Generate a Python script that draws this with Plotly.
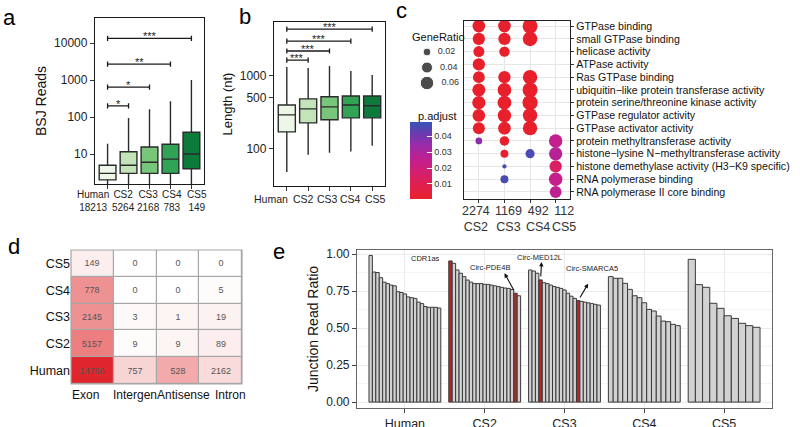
import plotly.graph_objects as go
import numpy as np

W, H = 800, 427
FONT = "Liberation Sans, Arial, sans-serif"
INK = "#1a1a1a"

# ---------------- panel a : BSJ reads per circRNA ----------------
groups = ["Human", "CS2", "CS3", "CS4", "CS5"]
circ_counts = [18213, 5264, 2168, 783, 149]
bsj_q1 = [2.0, 3.0, 3.0, 3.0, 4.0]
bsj_median = [3.0, 5.0, 6.0, 7.3, 10.0]
bsj_q3 = [5.0, 11.5, 15.5, 18.5, 39.0]
bsj_low = [1.0, 1.0, 1.0, 1.0, 1.0]
bsj_high = [19, 94, 164, 270, 1000]
bsj_tests = [("CS2", "*", 200), ("CS3", "*", 650), ("CS4", "**", 2700), ("CS5", "***", 13500)]

# ---------------- panel b : circRNA length ----------------
len_q1 = [171, 227, 250, 266, 266]
len_median = [292, 353, 376, 400, 390]
len_q3 = [400, 485, 517, 530, 530]
len_low = [48, 83, 88, 92, 110]
len_high = [1330, 1290, 1370, 1170, 1030]
len_tests = [("CS2", "***", 1650), ("CS3", "***", 2200), ("CS4", "***", 3000), ("CS5", "***", 4400)]

box_colors = ["#edf7e8", "#c2e4b8", "#78c679", "#31a354", "#0b7a3a"]

# ---------------- panel c : GO enrichment ----------------
go_terms = [
    "GTPase binding", "small GTPase binding", "helicase activity", "ATPase activity",
    "Ras GTPase binding", "ubiquitin\u2212like protein transferase activity",
    "protein serine/threonine kinase activity", "GTPase regulator activity",
    "GTPase activator activity", "protein methyltransferase activity",
    "histone\u2212lysine N\u2212methyltransferase activity",
    "histone demethylase activity (H3\u2212K9 specific)",
    "RNA polymerase binding", "RNA polymerase II core binding",
]
go_groups = ["CS2", "CS3", "CS4", "CS5"]
go_group_counts = [2274, 1169, 492, 112]
gene_ratio = {
    "CS2": [0.053, 0.050, 0.040, 0.050, 0.046, 0.056, 0.058, 0.053, 0.048, 0.015, None, None, None, None],
    "CS3": [0.053, 0.050, 0.036, None, 0.050, 0.062, 0.064, 0.060, 0.053, 0.030, 0.021, 0.006, 0.021, None],
    "CS4": [0.074, 0.070, None, None, 0.068, 0.074, 0.076, 0.068, 0.068, None, 0.028, None, None, None],
    "CS5": [None] * 9 + [0.060, 0.058, 0.050, 0.060, 0.046],
}
p_adjust = {
    "CS2": [0.001] * 9 + [0.036, None, None, None, None],
    "CS3": [0.001] * 9 + [0.002, 0.002, 0.048, 0.046, None],
    "CS4": [0.001, 0.001, None, None, 0.001, 0.001, 0.001, 0.001, 0.001, None, 0.046, None, None, None],
    "CS5": [None] * 9 + [0.025, 0.028, 0.014, 0.024, 0.026],
}
legend_ratios = [0.02, 0.04, 0.06]

# ---------------- panel d : genomic origin ----------------
region_types = ["Exon", "Intergen", "Antisense", "Intron"]
region_rows = ["Human", "CS2", "CS3", "CS4", "CS5"]
region_counts = [
    [14766, 757, 528, 2162],
    [5157, 9, 9, 89],
    [2145, 3, 1, 19],
    [778, 0, 0, 5],
    [149, 0, 0, 0],
]
# fill level of each cell (0 = white, 1 = darkest red)
region_fill_level = [
    [1.00, 0.22, 0.45, 0.19],
    [0.64, 0.02, 0.06, 0.09],
    [0.56, 0.03, 0.06, 0.07],
    [0.56, 0.00, 0.00, 0.02],
    [0.09, 0.00, 0.00, 0.00],
]

# ---------------- panel e : junction read ratio ----------------
junction_ratio = {
    "Human": [0.99, 0.878, 0.875, 0.84, 0.81, 0.80, 0.79, 0.785, 0.745, 0.74, 0.73,
              0.71, 0.705, 0.70, 0.675, 0.665, 0.645, 0.64, 0.64, 0.64, 0.635],
    "CS2": [0.953, 0.937, 0.892, 0.87, 0.847, 0.824, 0.81, 0.80, 0.80, 0.80, 0.795,
            0.795, 0.79, 0.785, 0.78, 0.775, 0.77, 0.768, 0.76, 0.735, 0.718],
    "CS3": [0.892, 0.885, 0.87, 0.825, 0.806, 0.80, 0.79, 0.78, 0.775, 0.768, 0.757,
            0.735, 0.715, 0.70, 0.685, 0.68, 0.675, 0.67, 0.665, 0.66, 0.655],
    "CS4": [0.847, 0.836, 0.836, 0.802, 0.761, 0.718, 0.705, 0.671, 0.626, 0.615,
            0.581, 0.547, 0.543, 0.525, 0.516],
    "CS5": [0.964, 0.793, 0.775, 0.667, 0.633, 0.583, 0.565, 0.532, 0.516, 0.505],
}
highlighted = {"CS2": [0, 19], "CS3": [3, 14]}
labelled = [("CDR1as", None), ("Circ-PDE4B", ("CS2", 19)), ("Circ-MED12L", ("CS3", 3)),
            ("Circ-SMARCA5", ("CS3", 14))]


def fx(p):
    return p / W


def fy(p):
    return 1 - p / H


fig = go.Figure()


def add_boxes(q1, med, q3, lo, hi, xa, ya):
    for i, g in enumerate(groups):
        fig.add_trace(go.Box(
            x=[g], q1=[q1[i]], median=[med[i]], q3=[q3[i]], lowerfence=[lo[i]], upperfence=[hi[i]],
            fillcolor=box_colors[i], line=dict(color="#2b2b2b", width=1.4), width=0.8,
            whiskerwidth=0, boxpoints=False, showlegend=False, hoverinfo="skip",
            xaxis=xa, yaxis=ya))


add_boxes(bsj_q1, bsj_median, bsj_q3, bsj_low, bsj_high, "x", "y")
add_boxes(len_q1, len_median, len_q3, len_low, len_high, "x2", "y2")

annotations = []


def add_brackets(tests, xa, ya, dec_per_px, yref):
    fac = 10 ** (2.6 * dec_per_px)
    xs, ys = [], []
    for g2, lab, yv in tests:
        xs += ["Human", "Human", "Human", g2, g2, g2, None]
        ys += [yv / fac, yv * fac, yv, yv, yv * fac, yv / fac, None]
        annotations.append(dict(x=(groups.index(g2)) / 2, y=np.log10(yv), xref=xa,
                                yref=yref, text=lab, showarrow=False, yanchor="middle", yshift=2,
                                font=dict(size=11, color=INK, family=FONT)))
    fig.add_trace(go.Scatter(x=xs, y=ys, mode="lines", line=dict(color=INK, width=1.3),
                             showlegend=False, hoverinfo="skip", xaxis=xa, yaxis=ya))


a_yr = [0.19, 4.68]
b_yr = [1.49, 3.74]
add_brackets(bsj_tests, "x", "y", (a_yr[1] - a_yr[0]) / 166, "y")
add_brackets(len_tests, "x2", "y2", (b_yr[1] - b_yr[0]) / 164, "y2")


def ratio_to_px(r):
    return 55 * np.sqrt(r)


dx, dy, ds, dc = [], [], [], []
for gi, g in enumerate(go_groups):
    for ti in range(len(go_terms)):
        r = gene_ratio[g][ti]
        if r is None:
            continue
        dx.append(gi + 1)
        dy.append(ti + 1)
        ds.append(ratio_to_px(r))
        dc.append(p_adjust[g][ti])
fig.add_trace(go.Scatter(x=dx, y=dy, mode="markers",
                         marker=dict(size=ds, color=dc, coloraxis="coloraxis", line=dict(width=0), opacity=1),
                         showlegend=False, hoverinfo="skip", xaxis="x3", yaxis="y3"))

fig.add_trace(go.Scatter(x=[0, 0, 0], y=legend_ratios, mode="markers+text",
                         marker=dict(size=[ratio_to_px(r) for r in legend_ratios], color="black"),
                         text=["  %.2f" % r for r in legend_ratios], textposition="middle right",
                         textfont=dict(size=9, color="#333", family=FONT),
                         showlegend=False, hoverinfo="skip", xaxis="x6", yaxis="y6", cliponaxis=False))

fig.add_trace(go.Heatmap(z=region_fill_level, x=region_types, y=region_rows,
                         text=[[str(v) for v in row] for row in region_counts], texttemplate="%{text}",
                         textfont=dict(size=9, color="#555", family=FONT),
                         colorscale=[[0, "#ffffff"], [0.5, "#f0a0a0"], [1, "#e0262c"]], zmin=0, zmax=1,
                         showscale=False, xgap=1.2, ygap=1.2, hoverinfo="skip", xaxis="x4", yaxis="y4"))

bx, by, bw, bc = [], [], [], []
bar_pos = {}
for gi, g in enumerate(groups):
    vals = junction_ratio[g]
    n = len(vals)
    w = 0.9 / n
    for i, v in enumerate(vals):
        x = gi + 1 - 0.45 + (i + 0.5) * w
        bx.append(x)
        by.append(v)
        bw.append(w)
        bc.append("#b22a2a" if i in highlighted.get(g, []) else "#d2d2d2")
        bar_pos[(g, i)] = (x, v)
fig.add_trace(go.Bar(x=bx, y=by, width=bw, marker=dict(color=bc, line=dict(color="#3a3a3a", width=1)),
                     showlegend=False, hoverinfo="skip", xaxis="x5", yaxis="y5"))

E_XR = [0.4, 5.6]
E_YR = [-0.04, 1.027]
E_PX_X = 80.0
E_PX_Y = 148.0


def e_x(px):
    return E_XR[0] + (px - 357) / E_PX_X


def e_y(py):
    return (402 - py) / E_PX_Y


label_px = {"CDR1as": (426, 258), "Circ-PDE4B": (490, 267), "Circ-MED12L": (540, 257),
            "Circ-SMARCA5": (593, 268)}
arrow_head_offset = {"Circ-PDE4B": (-11, -20), "Circ-MED12L": (1, -18), "Circ-SMARCA5": (10, -17)}
for name, target in labelled:
    px, py = label_px[name]
    annotations.append(dict(x=e_x(px), y=e_y(py), xref="x5", yref="y5", text=name, showarrow=False,
                            xanchor="center", yanchor="middle",
                            font=dict(size=7.5, color="#222", family=FONT)))
    if target is not None:
        tx, ty = bar_pos[target]
        ox, oy = arrow_head_offset[name]
        hx = tx + ox / E_PX_X
        hy = ty - oy / E_PX_Y
        annotations.append(dict(x=hx, y=hy, xref="x5", yref="y5", ax=-ox, ay=-oy, text="",
                                showarrow=True, arrowhead=2, arrowsize=0.8, arrowwidth=1.1,
                                arrowcolor="#111", standoff=0, startstandoff=2))

for letter, (px, py) in {"a": (9, 17), "b": (245, 16), "c": (402, 10), "d": (14, 246), "e": (279, 251)}.items():
    annotations.append(dict(x=fx(px), y=fy(py), xref="paper", yref="paper", text=letter, showarrow=False,
                            xanchor="center", yanchor="middle", font=dict(size=22, color="black", family=FONT)))
annotations.append(dict(x=fx(439), y=fy(37), xref="paper", yref="paper", text="GeneRatio", showarrow=False,
                        xanchor="center", yanchor="middle", font=dict(size=11, color="#111", family=FONT)))
annotations.append(dict(x=fx(437), y=fy(116), xref="paper", yref="paper", text="p.adjust", showarrow=False,
                        xanchor="center", yanchor="middle", font=dict(size=11, color="#111", family=FONT)))


# ---- category labels under panels a-d (placed per category, nudged sideways like the original)
def cat_labels(texts, positions, xref, yref, shifts, yshift, size, color="#222"):
    for t, p, s in zip(texts, positions, shifts):
        annotations.append(dict(x=p, y=0, xref=xref, yref=yref, text=t, showarrow=False,
                                xanchor="center", yanchor="top", xshift=s, yshift=yshift,
                                font=dict(size=size, color=color, family=FONT)))


idx5 = list(range(len(groups)))
cat_labels([f"{g}<br>{c}" for g, c in zip(groups, circ_counts)], idx5, "x", "y domain",
           [-15, -5, -1.5, 1.5, 6], -3, 10)
cat_labels(groups, idx5, "x2", "y2 domain", [-16, -5, -2.5, 0, 3], -5, 10.5)
cat_labels([f"{c}<br>{g}" for c, g in zip(go_group_counts, go_groups)], [1, 2, 3, 4], "x3", "y3 domain",
           [-3, 4, 8, 8], -3, 12.5, "#333")
cat_labels(region_types, list(range(len(region_types))), "x4", "y4 domain", [-7, 0, 6, 10], -2, 12, "#111")

tickfont = dict(size=12, color="#222", family=FONT)
frame = dict(showline=True, mirror=True, linecolor="#1a1a1a", linewidth=1.3, zeroline=False, showgrid=False,
             automargin=False)

shapes = [
    dict(type="rect", xref="x4 domain", yref="y4 domain", x0=0, x1=1, y0=0, y1=1,
         fillcolor="#a6a6a6", line=dict(width=0), layer="below"),
    dict(type="rect", xref="x4 domain", yref="y4 domain", x0=0, x1=1, y0=0, y1=1,
         fillcolor="rgba(0,0,0,0)", line=dict(width=1.2, color="#a6a6a6"), layer="above"),
]

fig.update_layout(
    width=W, height=H, margin=dict(l=0, r=0, t=0, b=0, autoexpand=False),
    paper_bgcolor="white", plot_bgcolor="white", font=dict(family=FONT, color=INK),
    showlegend=False, annotations=annotations, shapes=shapes,
    xaxis=dict(domain=[fx(95), fx(204)], anchor="y", type="category", range=[-0.6, 4.6],
               tickvals=groups, showticklabels=False,
               ticks="outside", ticklen=4, tickcolor="#333", **frame),
    yaxis=dict(domain=[fy(184), fy(18)], anchor="x", type="log", range=a_yr,
               tickvals=[10, 100, 1000, 10000], ticktext=["10", "100", "1000", "10000"],
               ticks="outside", ticklen=4, tickcolor="#333", tickfont=tickfont,
               title=dict(text="BSJ Reads", font=dict(size=14, color="#111", family=FONT), standoff=4), **frame),
    xaxis2=dict(domain=[fx(274), fx(385)], anchor="y2", type="category", range=[-0.6, 4.6],
                tickvals=groups, showticklabels=False, ticks="outside", ticklen=4, tickcolor="#333", **frame),
    yaxis2=dict(domain=[fy(186), fy(22)], anchor="x2", type="log", range=b_yr,
                tickvals=[100, 500, 1000], ticktext=["100", "500", "1000"],
                ticks="outside", ticklen=4, tickcolor="#333", tickfont=tickfont,
                title=dict(text="Length (nt)", font=dict(size=13, color="#111", family=FONT), standoff=4), **frame),
    xaxis3=dict(domain=[fx(464), fx(570)], anchor="y3", range=[0.42, 4.56], tickvals=[1, 2, 3, 4],
                showticklabels=False, automargin=False,
                ticks="outside", ticklen=3, tickcolor="#333",
                showline=True, mirror=True, linecolor="#222", linewidth=1.2, zeroline=False,
                showgrid=True, gridcolor="#e6e6e6", gridwidth=1),
    yaxis3=dict(domain=[fy(199), fy(21)], anchor="x3", side="right", range=[14.55, 0.6], automargin=False,
                tickvals=list(range(1, len(go_terms) + 1)), ticktext=go_terms,
                ticks="outside", ticklen=3, tickcolor="#333", tickfont=dict(size=10.6, color="#111", family=FONT),
                showline=True, mirror=True, linecolor="#222", linewidth=1.2, zeroline=False,
                showgrid=True, gridcolor="#e6e6e6", gridwidth=1),
    xaxis4=dict(domain=[fx(71), fx(242)], anchor="y4", type="category", range=[-0.5, len(region_types) - 0.5],
                showgrid=False, zeroline=False, showticklabels=False, automargin=False, showline=False, ticks=""),
    yaxis4=dict(domain=[fy(384), fy(250)], anchor="x4", type="category", range=[-0.5, len(region_rows) - 0.5],
                showgrid=False, zeroline=False,
                showline=False, ticks="", automargin=False, tickfont=dict(size=12.5, color="#111", family=FONT)),
    xaxis5=dict(domain=[fx(357), fx(772)], anchor="y5", range=E_XR, tickvals=[1, 2, 3, 4, 5], ticktext=groups,
                ticks="outside", ticklen=4, tickcolor="#444", tickangle=0, automargin=False,
                tickfont=dict(size=12.5, color="#222", family=FONT),
                showline=True, mirror=True, linecolor="#666", linewidth=1.2, zeroline=False,
                showgrid=True, gridcolor="#ebebeb", gridwidth=1),
    yaxis5=dict(domain=[fy(408), fy(250)], anchor="x5", range=E_YR, tickvals=[0, 0.25, 0.5, 0.75, 1.0],
                ticktext=["0.00", "0.25", "0.50", "0.75", "1.00"], automargin=False,
                ticks="outside", ticklen=4, tickcolor="#444", tickfont=tickfont,
                showline=True, mirror=True, linecolor="#666", linewidth=1.2, zeroline=False,
                showgrid=True, gridcolor="#ebebeb", gridwidth=1,
                minor=dict(tickvals=[0.125, 0.375, 0.625, 0.875], showgrid=True, gridcolor="#f5f5f5", ticks=""),
                title=dict(text="Junction Read Ratio", font=dict(size=14, color="#111", family=FONT), standoff=4)),
    xaxis6=dict(domain=[fx(417), fx(437)], anchor="y6", range=[-1, 1], visible=False),
    yaxis6=dict(domain=[fy(91), fy(44)], anchor="x6", range=[0.0703, 0.0097], visible=False),
    coloraxis=dict(
        cmin=0.0005, cmax=0.049,
        colorscale=[[0, "#e8202a"], [0.25, "#dc1f5c"], [0.5, "#c41f8f"], [0.7, "#9a2ba8"],
                    [0.85, "#6a3bb0"], [1, "#3656b6"]],
        colorbar=dict(x=fx(410), xanchor="left", y=fy(160.5), yanchor="middle", len=77 / H, lenmode="fraction",
                      thickness=22, thicknessmode="pixels", xpad=0, ypad=0, tickvals=[0.01, 0.02, 0.03, 0.04],
                      ticks="inside", ticklen=5, tickcolor="white", outlinewidth=0,
                      tickfont=dict(size=9, color="#333", family=FONT), title=dict(text="")),
    ),
)

fig.write_html("out.html", config={"displayModeBar": False},
               post_script="document.body.style.margin='0';document.body.style.overflow='hidden';")
